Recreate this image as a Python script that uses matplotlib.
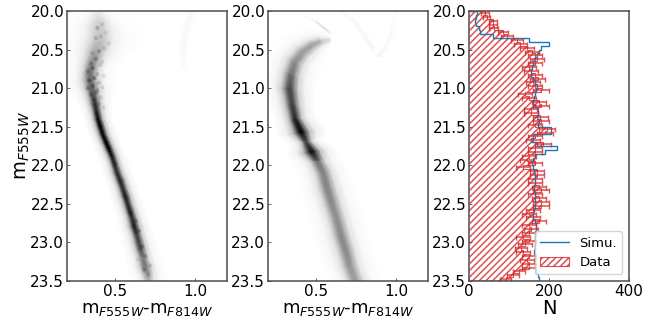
""" Colour-magnitude density of the data and the simulation, with the star counts per bin

Run as:

    python3 plot.py
"""

import numpy as np
import matplotlib
matplotlib.use('Agg')
import matplotlib.pyplot as plt

# cross-section of a density band, shared by all the bands
band_offset = [-6, -3.5, -2, -1, -0.5, 0, 0.5, 1, 2, 3.5, 6]
band_profile = [0, 0.07, 0.25, 0.68, 0.92, 1, 0.92, 0.68, 0.25, 0.07, 0]

# left panel: observed ridge, one row per 0.1 mag
obs_color = [0.39, 0.40, 0.40, 0.405, 0.40, 0.385, 0.37, 0.355, 0.345, 0.345, 0.355, 0.365,
             0.375, 0.385, 0.395, 0.41, 0.425, 0.445, 0.465, 0.485, 0.50, 0.515, 0.533, 0.55,
             0.565, 0.58, 0.595, 0.61, 0.622, 0.637, 0.65, 0.662, 0.675, 0.687, 0.70, 0.71]
obs_mag = [20.0, 20.1, 20.2, 20.3, 20.4, 20.5, 20.6, 20.7, 20.8, 20.9, 21.0, 21.1,
           21.2, 21.3, 21.4, 21.5, 21.6, 21.7, 21.8, 21.9, 22.0, 22.1, 22.2, 22.3,
           22.4, 22.5, 22.6, 22.7, 22.8, 22.9, 23.0, 23.1, 23.2, 23.3, 23.4, 23.5]
obs_dc = [0.032, 0.038, 0.042, 0.044, 0.044, 0.04, 0.032, 0.027, 0.025, 0.025, 0.025, 0.021,
          0.018, 0.016, 0.015, 0.015, 0.015, 0.015, 0.015, 0.015, 0.015, 0.016, 0.016, 0.016,
          0.016, 0.016, 0.016, 0.017, 0.017, 0.017, 0.018, 0.018, 0.019, 0.02, 0.02, 0.02]
obs_peak = [0.06, 0.14, 0.2, 0.22, 0.26, 0.32, 0.4, 0.48, 0.55, 0.58, 0.6, 0.66,
            0.8, 0.85, 0.95, 1.0, 0.95, 1.0, 1.0, 0.88, 0.85, 0.8, 0.88, 0.8,
            0.9, 0.8, 0.9, 0.78, 0.9, 0.75, 0.72, 0.7, 0.5, 0.55, 0.45, 0.25]
obs_faint_color = [0.98, 0.95, 0.93, 0.93]
obs_faint_mag = [20.0, 20.2, 20.4, 20.75]
obs_faint_peak = [0.04, 0.025, 0.03, 0.015]

speck_color = [0.39, 0.42, 0.38, 0.41, 0.44, 0.36, 0.40, 0.43, 0.46, 0.35, 0.38, 0.41, 0.33, 0.36,
               0.39, 0.42, 0.34, 0.37, 0.40, 0.43, 0.33, 0.36, 0.39, 0.42, 0.35, 0.38, 0.41, 0.37,
               0.40, 0.43, 0.60, 0.63, 0.65, 0.67, 0.69, 0.72, 0.68, 0.71, 0.64, 0.58, 0.55, 0.50]
speck_mag = [20.22, 20.17, 20.35, 20.33, 20.28, 20.55, 20.52, 20.48, 20.42, 20.68, 20.62, 20.7,
             20.78, 20.74, 20.82, 20.66, 20.9, 20.87, 20.93, 20.84, 21.0, 20.97, 21.03, 20.99,
             21.08, 21.06, 21.12, 21.15, 21.2, 21.25, 22.62, 22.72, 22.85, 23.05, 23.18, 23.3,
             23.35, 23.42, 23.22, 22.42, 22.2, 21.98]
speck_alpha = [0.18, 0.1, 0.15, 0.1, 0.08, 0.12, 0.18, 0.1, 0.08, 0.18, 0.2, 0.12, 0.2, 0.25,
               0.15, 0.1, 0.25, 0.25, 0.15, 0.1, 0.22, 0.25, 0.18, 0.1, 0.22, 0.18, 0.1, 0.2,
               0.12, 0.08, 0.2, 0.2, 0.2, 0.2, 0.18, 0.12, 0.18, 0.15, 0.08, 0.1, 0.1, 0.08]

# middle panel: simulated ridge, rows follow the curve
sim_color = [0.59, 0.526, 0.48, 0.42, 0.37, 0.345, 0.335, 0.35, 0.37, 0.41, 0.44, 0.475,
             0.51, 0.545, 0.57, 0.60, 0.63, 0.655, 0.685, 0.71, 0.745]
sim_mag = [20.38, 20.40, 20.44, 20.53, 20.66, 20.82, 21.0, 21.2, 21.4, 21.58, 21.7, 21.83,
           21.95, 22.1, 22.3, 22.5, 22.7, 22.9, 23.1, 23.3, 23.5]
sim_dc = [0.0, 0.005, 0.012, 0.02, 0.026, 0.027, 0.027, 0.024, 0.021, 0.026, 0.018, 0.026,
          0.024, 0.027, 0.028, 0.028, 0.028, 0.028, 0.028, 0.028, 0.028]
sim_dm = [0.022, 0.03, 0.034, 0.034, 0.024, 0.01, 0.0, -0.004, -0.006, -0.007, -0.006, -0.007,
          -0.007, -0.007, -0.006, -0.006, -0.006, -0.006, -0.006, -0.006, -0.006]
sim_peak = [0.05, 0.3, 0.36, 0.38, 0.44, 0.55, 0.72, 0.72, 0.85, 1.0, 0.65, 1.0,
            0.55, 0.48, 0.48, 0.46, 0.44, 0.46, 0.46, 0.42, 0.38]
sim_faint1_color = [0.40, 0.50, 0.56, 0.59]
sim_faint1_mag = [20.03, 20.13, 20.23, 20.28]
sim_faint1_peak = [0.01, 0.03, 0.2, 0.04]
sim_faint2_color = [0.66, 0.75, 0.83, 0.89, 0.93, 0.97, 1.0]
sim_faint2_mag = [20.0, 20.15, 20.4, 20.58, 20.5, 20.3, 20.0]
sim_faint2_peak = [0.015, 0.03, 0.03, 0.04, 0.03, 0.025, 0.01]

# right panel: counts in bins of 0.05 mag
data_counts = [40, 44, 60, 60, 62, 85, 95, 120, 128, 145, 157, 165, 170, 165, 150, 155, 165, 172, 160, 165,
               180, 140, 150, 175, 180, 155, 155, 178, 180, 165, 195, 190, 165, 160, 185, 165, 165, 150, 145, 165,
               135, 170, 170, 165, 165, 175, 180, 165, 175, 180, 180, 160, 150, 160, 175, 150, 155, 150, 135, 150,
               140, 130, 135, 150, 145, 150, 150, 125, 110, 92]
simu_counts = [19, 17, 15, 17, 26, 28, 60, 150, 200, 180, 176, 170, 165, 160, 158, 155, 155, 160, 165, 170,
               168, 165, 162, 160, 165, 170, 172, 170, 175, 172, 205, 205, 160, 155, 170, 220, 190, 165, 160, 158,
               160, 162, 165, 165, 165, 162, 162, 165, 165, 165, 165, 162, 160, 160, 165, 168, 168, 165, 165, 165,
               165, 165, 162, 165, 165, 165, 165, 168, 172, 175]

mag_ticks = [20.0, 20.5, 21.0, 21.5, 22.0, 22.5, 23.0, 23.5]
color_ticks = [0.5, 1.0]
count_ticks = [0, 200, 400]
color_label = r'm$_{F555W}$-m$_{F814W}$'
mag_label = r'm$_{F555W}$'
edge_grey = '#4d4d4d'


def draw_band(ax, color, mag, dc, dm, peak):
    # rows follow the ridge, columns go across it
    u = np.array(band_offset)
    x = np.outer(color, np.ones(u.size)) + np.outer(dc, u)
    y = np.outer(mag, np.ones(u.size)) + np.outer(dm, u)
    z = np.outer(peak, band_profile)
    ax.pcolormesh(x, y, z, shading='gouraud', cmap='gray_r', vmin=0, vmax=1, rasterized=True)


def style_axes(ax):
    ax.set_ylim(23.5, 20.0)
    ax.set_yticks(mag_ticks)
    ax.set_yticklabels([f'{m:.1f}' for m in mag_ticks])
    ax.tick_params(direction='in', length=2, width=0.6, labelsize=11, pad=2, color=edge_grey)
    for spine in ax.spines.values():
        spine.set_color(edge_grey)
        spine.set_linewidth(1.1)


def make_axes(fig, left, right, top=11, bottom=281):
    w, h = 667.0, 320.0
    return fig.add_axes([left / w, 1 - bottom / h, (right - left) / w, (bottom - top) / h])


def main():
    plt.rcParams['hatch.linewidth'] = 1.1
    fig = plt.figure(figsize=(6.67, 3.2), dpi=100)

    ax1 = make_axes(fig, 67, 227)
    draw_band(ax1, obs_color, obs_mag, obs_dc, np.zeros(len(obs_mag)), obs_peak)
    draw_band(ax1, obs_faint_color, obs_faint_mag, [0.012] * 4, [0.0] * 4, obs_faint_peak)
    ax1.scatter(speck_color, speck_mag, s=9, c='k', alpha=speck_alpha, linewidths=0)
    ax1.set_xlim(0.2, 1.2)
    ax1.set_xticks(color_ticks)
    style_axes(ax1)
    ax1.set_xlabel(color_label, fontsize=13, labelpad=1)
    ax1.set_ylabel(mag_label, fontsize=14, labelpad=-1)

    ax2 = make_axes(fig, 268, 428)
    draw_band(ax2, sim_color, sim_mag, sim_dc, sim_dm, sim_peak)
    draw_band(ax2, sim_faint1_color, sim_faint1_mag, [0.003] * 4, [-0.003] * 4, sim_faint1_peak)
    draw_band(ax2, sim_faint2_color, sim_faint2_mag, [0.009] * 7, [0.0] * 7, sim_faint2_peak)
    ax2.set_xlim(0.2, 1.2)
    ax2.set_xticks(color_ticks)
    style_axes(ax2)
    ax2.set_xlabel(color_label, fontsize=13, labelpad=1)

    ax3 = make_axes(fig, 469, 629)
    edges = np.linspace(20.0, 23.5, len(data_counts) + 1)
    centres = 0.5 * (edges[:-1] + edges[1:])
    data = np.array(data_counts, dtype=float)
    ax3.stairs(data, edges, orientation='horizontal', fill=True, facecolor='none',
               edgecolor='tab:red', hatch='/////', linewidth=0.8, alpha=0.8, label='Data')
    ax3.errorbar(data, centres, xerr=np.sqrt(2 * data), fmt='none', ecolor='tab:red',
                 elinewidth=1.1, capsize=1.8, capthick=1.0, alpha=0.8)
    ax3.stairs(simu_counts, edges, orientation='horizontal', color='tab:blue',
               linewidth=1.0, label='Simu.')
    ax3.set_xlim(0, 400)
    ax3.set_xticks(count_ticks)
    style_axes(ax3)
    ax3.set_xlabel('N', fontsize=14, labelpad=0)
    handles, labels = ax3.get_legend_handles_labels()
    order = [labels.index('Simu.'), labels.index('Data')]
    ax3.legend([handles[i] for i in order], [labels[i] for i in order], loc='lower right',
               fontsize=9.5, borderaxespad=0.5, handlelength=2.2)

    fig.savefig('out.png', dpi=100)


if __name__ == '__main__':
    main()
